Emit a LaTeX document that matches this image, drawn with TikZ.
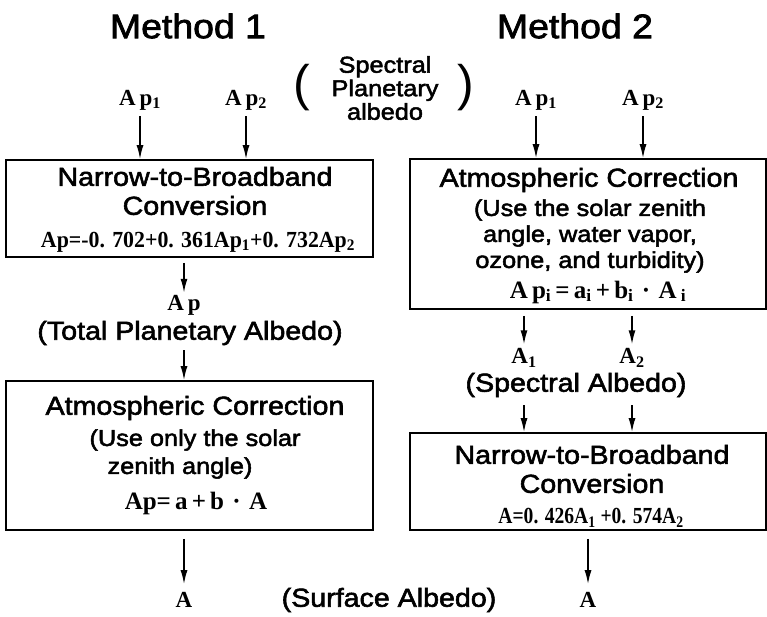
\documentclass[tikz,border=0pt]{standalone}
\usepackage{fontspec}
\setmainfont{Liberation Sans}[FakeStretch=1.1,FakeBold=2.2]
\newfontfamily\thinf{Liberation Sans}
\newfontfamily\fmf{Liberation Serif}
\usetikzlibrary{arrows.meta}
\newcommand\hdf{\fontsize{26}{29}\selectfont}
\newcommand\smf{\fontsize{23}{26}\selectfont}
\newcommand\spf{\fontsize{23}{23.5}\selectfont}
\newcommand\ttlf{\fontsize{34}{36}\selectfont}
\newcommand\fmlf{\fmf\bfseries\fontsize{23}{25}\selectfont}
\newcommand\fmbf{\fmf\bfseries\fontsize{25}{27}\selectfont}
\begin{document}
\begin{tikzpicture}[x=1pt,y=-1pt,
  box/.style={draw, line width=1.6pt, inner sep=0pt},
  arr/.style={-{Latex[length=14pt,width=7pt]}, line width=1.6pt},
  ttl/.style={font=\ttlf, inner sep=0pt},
  hd/.style={font=\hdf, align=center, inner sep=0pt},
  sm/.style={font=\smf, align=center, inner sep=0pt},
  fm/.style={font=\fmlf, inner sep=0pt},
  fmb/.style={font=\fmbf, inner sep=0pt},
  paren/.style={font=\thinf\fontsize{50}{50}\selectfont, inner sep=0pt}]
\useasboundingbox (0,0) rectangle (767,617);
% titles
\node[ttl] (m1) at (188,26) {Method 1};
\node[ttl] (m2) at (575,26) {Method 2};
\node[sm, font=\spf] (spec) at (385,88) {Spectral\\Planetary\\albedo};
\node[paren] (lp) at (302,88) {(};
\node[paren] (rp) at (466,88) {)};
\node[fm] (ap1L) at (140,100) {A\,p\textsubscript{1}};
\node[fm] (ap2L) at (246,100) {A\,p\textsubscript{2}};
\node[fm] (ap1R) at (536,100) {A\,p\textsubscript{1}};
\node[fm] (ap2R) at (643,100) {A\,p\textsubscript{2}};
% boxes
\node[box, minimum width=367pt, minimum height=97pt] (bL1) at (189.5,208.5) {};
\node[box, minimum width=356pt, minimum height=150pt] (bR1) at (588,234) {};
\node[box, minimum width=367pt, minimum height=149pt] (bL2) at (189.5,455.5) {};
\node[box, minimum width=356pt, minimum height=97pt] (bR2) at (588,481.5) {};
% box L1 text
\node[hd] (tL1) at (195,191) {Narrow-to-Broadband\\Conversion};
\node[fm] (fL1) at (198,242) {\scalebox{0.95}[1]{Ap=-0. 702+0. 361Ap\textsubscript{1}+0. 732Ap\textsubscript{2}}};
% box R1 text
\node[hd] (tR1) at (589,180) {Atmospheric Correction};
\node[sm] (uR1) at (590,236) {(Use the solar zenith\\angle, water vapor,\\ozone, and turbidity)};
\node[fmb] (fR1) at (598,292) {A\,p\textsubscript{i}\,=\,a\textsubscript{i}\,+\,b\textsubscript{i}\,\,·\,\,A\,\textsubscript{i}};
% box L2 text
\node[hd] (tL2) at (195,408) {Atmospheric Correction};
\node[sm] (uL2) at (195,440) {(Use only the solar};
\node[sm] (zL2) at (180,468) {zenith angle)};
\node[fmb] (fL2) at (196,503) {Ap=\,a\,+\,b\,\,·\,\,A};
% box R2 text
\node[hd] (tR2) at (592,469) {Narrow-to-Broadband\\Conversion};
\node[fm] (fR2) at (591,518) {\scalebox{0.85}[1]{A=0. 426A\textsubscript{1} +0. 574A\textsubscript{2}}};
% intermediate labels
\node[fm] (apL) at (184,305) {A\,p};
\node[hd] (tpa) at (190,333) {(Total Planetary Albedo)};
\node[fm] (a1) at (524,358) {A\textsubscript{1}};
\node[fm] (a2) at (632,358) {A\textsubscript{2}};
\node[hd] (sa) at (576,385) {(Spectral Albedo)};
\node[fm] (aL) at (184,600) {A};
\node[fm] (aR) at (588,600) {A};
\node[hd] (sfa) at (389,600) {(Surface Albedo)};
% arrows
\foreach \n in {ap1L,ap2L}{\draw[arr, shorten <=6pt] (\n.south) -- (\n.south |- bL1.north);}
\foreach \n in {ap1R,ap2R}{\draw[arr, shorten <=6pt] (\n.south) -- (\n.south |- bR1.north);}
\draw[arr, shorten <=5pt, shorten >=2pt] (apL.north |- bL1.south) -- (apL.north);
\draw[arr, shorten <=5pt] (tpa.south -| apL) -- (apL |- bL2.north);
\draw[arr, shorten <=8pt, shorten >=8pt] (aL |- bL2.south) -- (aL.north);
\foreach \n in {a1,a2}{
  \draw[arr, shorten <=6pt, shorten >=4pt] (\n |- bR1.south) -- (\n.north);
  \draw[arr, shorten <=8pt] (\n |- sa.south) -- (\n |- bR2.north);}
\draw[arr, shorten <=8pt, shorten >=8pt] (aR |- bR2.south) -- (aR.north);
\end{tikzpicture}
\end{document}
